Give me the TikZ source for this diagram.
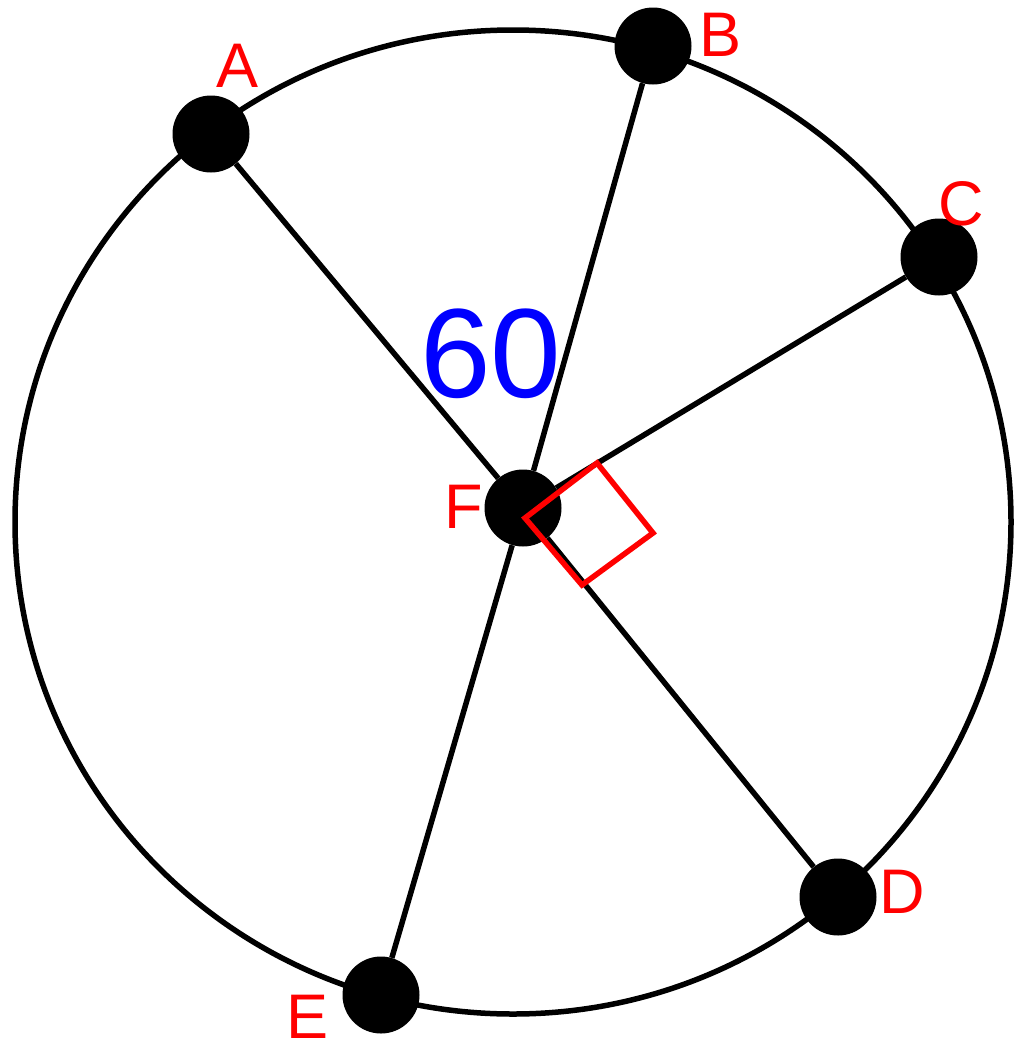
\documentclass[tikz,border=0pt]{standalone}
\usepackage{fontspec}
\setmainfont{Liberation Sans}
\begin{document}
\begin{tikzpicture}[x=1pt,y=-1pt,
  dot/.style={circle,fill=black,inner sep=0pt,minimum size=77pt},
  lbl/.style={text=red,inner sep=0pt,font=\fontsize{63}{63}\selectfont},
  edge/.style={line width=5.5pt,black},
  rim/.style={line width=5.5pt,black}]
\useasboundingbox (0,0) rectangle (1017,1042);
\draw[rim] (513,522) ellipse [x radius=498, y radius=492];
\node[dot] (A) at (211,134) {};
\node[dot] (B) at (653,46) {};
\node[dot] (C) at (939,257) {};
\node[dot] (D) at (838,897) {};
\node[dot] (E) at (381,995) {};
\node[dot] (F) at (523,508) {};
\draw[edge] (F) -- (A);
\draw[edge] (F) -- (B);
\draw[edge] (F) -- (C);
\draw[edge] (F) -- (D);
\draw[edge] (F) -- (E);
\node[lbl] (lA) at (238,66) {A};
\node[lbl] (lB) at (721,35) {B};
\node[lbl] (lC) at (961,204) {C};
\node[lbl] (lD) at (902,892) {D};
\node[lbl] (lE) at (308,1017) {E};
\node[lbl] (lF) at (464,507) {F};
\node[text=blue,inner sep=0pt,font=\fontsize{127}{127}\selectfont] (ang) at (491,354) {60};
\draw[red,line width=5.5pt,line join=miter] (525,518) -- (597,463) -- (653,533) -- (582,585) -- cycle;
\end{tikzpicture}
\end{document}
